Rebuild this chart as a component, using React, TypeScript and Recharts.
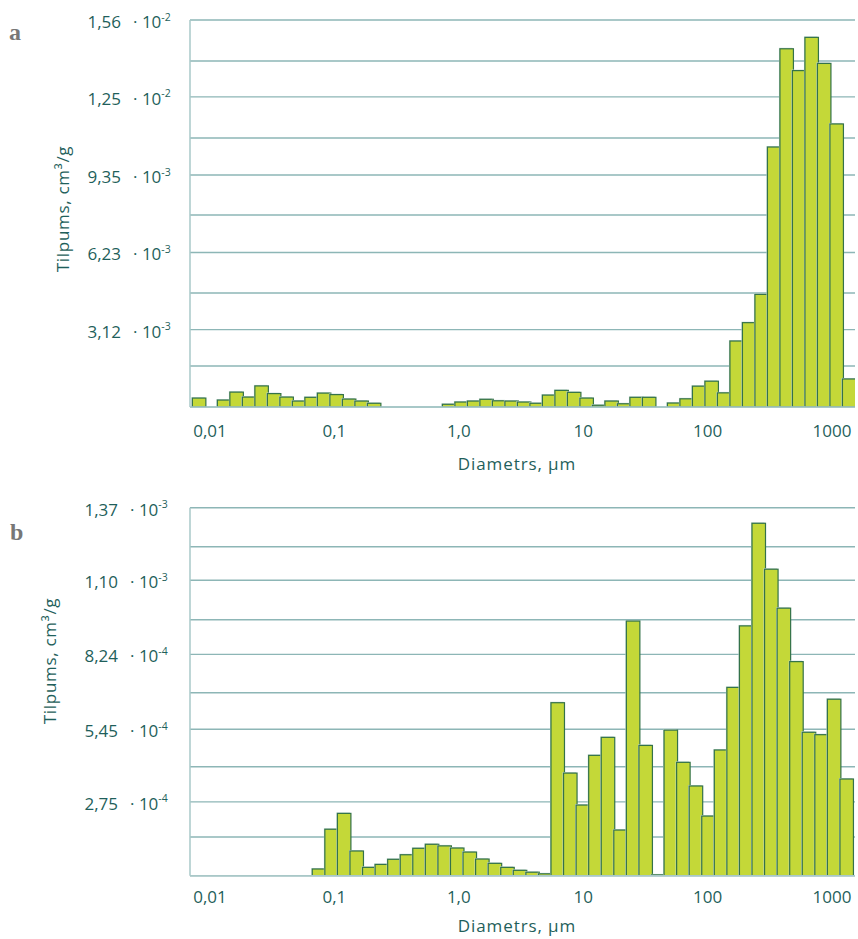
import React from 'react';
import { BarChart, Bar, XAxis, YAxis, CartesianGrid } from 'recharts';

// ---------- data ----------
// Chart a: pore volume per log-spaced diameter bin (cm3/g), 53 bins
const A_VALUES = [
  0.00036, 0, 0.00028, 0.0006, 0.0004, 0.00085, 0.00054, 0.0004, 0.00024, 0.00039,
  0.00056, 0.0005, 0.00032, 0.00024, 0.00015, 0, 0, 0, 0, 0,
  0.00011, 0.0002, 0.00024, 0.00031, 0.00025, 0.00024, 0.0002, 0.00015, 0.00048, 0.00067,
  0.00059, 0.00036, 0.00007, 0.00024, 0.00013, 0.00039, 0.00039, 0, 0.00016, 0.00033,
  0.00084, 0.00104, 0.00057, 0.00266, 0.0034, 0.00454, 0.01048, 0.01444, 0.01356, 0.0149,
  0.01385, 0.01141, 0.00113,
];
const A_BIN_START_LOG = -2.142; // log10(µm) of first bin's lower edge
const A_BIN_STEP_LOG = 0.1005;

// Chart b: 43 bins
const B_VALUES = [
  0.000025, 0.000173, 0.000232, 0.000092, 0.000031, 0.000042, 0.000061, 0.000078, 0.000102, 0.000117,
  0.000111, 0.000103, 0.000088, 0.000062, 0.000046, 0.000031, 0.00002, 0.000013, 0.000007, 0.000644,
  0.000382, 0.000263, 0.000448, 0.000515, 0.00017, 0.000948, 0.000485, 0.000003, 0.000542, 0.000422,
  0.000334, 0.000222, 0.000468, 0.000701, 0.00093, 0.001312, 0.001141, 0.000996, 0.000797, 0.000534,
  0.000525, 0.000657, 0.00036,
];
const B_BIN_START_LOG = -1.178;
const B_BIN_STEP_LOG = 0.101;

const X_TICKS = [-2, -1, 0, 1, 2, 3];
const X_TICK_LABELS = ['0,01', '0,1', '1,0', '10', '100', '1000'];

const Y_TICKS_A = [0, 0.001653, 0.00312, 0.004595, 0.00623, 0.00774, 0.00935, 0.010843, 0.0125, 0.013947, 0.0156];
const Y_MANT_A = ['', '', '3,12', '', '6,23', '', '9,35', '', '1,25', '', '1,56'];
const Y_EXP_A = ['', '', '-3', '', '-3', '', '-3', '', '-2', '', '-2'];

const Y_TICKS_B = [0, 0.0001441, 0.000275, 0.0004058, 0.000545, 0.0006813, 0.000824, 0.0009531, 0.0011, 0.0012248, 0.00137];
const Y_MANT_B = ['', '', '2,75', '', '5,45', '', '8,24', '', '1,10', '', '1,37'];
const Y_EXP_B = ['', '', '-4', '', '-4', '', '-4', '', '-3', '', '-3'];

const X_TITLE = 'Diametrs, µm';
const Y_TITLE = 'Tilpums, cm³/g';

// ---------- styles ----------
const FONT = '"Open Sans", sans-serif';
const TEXT = '#1f5f5b';
const GRID = '#8db6b6';
const AXIS = '#a9c8c8';
const FILL = '#c4d838';
const STROKE = '#347249';

const buildData = (values: number[], start: number, step: number) =>
  values.map((v, i) => ({ logD: start + (i + 0.5) * step, v }));

const A_DATA = buildData(A_VALUES, A_BIN_START_LOG, A_BIN_STEP_LOG);
const B_DATA = buildData(B_VALUES, B_BIN_START_LOG, B_BIN_STEP_LOG);

const BarShape = (props: any) => {
  const { x, y, width, height } = props;
  if (!(height > 0)) return null;
  const w = width + 0.5;
  return (
    <g>
      <rect x={x - 1} y={y - 1} width={w} height={height + 1} fill="#c9dcd8" />
      <rect x={x} y={y} width={w} height={height} fill={FILL} stroke={STROKE} strokeWidth={1.2} />
    </g>
  );
};

const renderYTick = (p: any, ticks: number[], mant: string[], exps: string[], numEnd: number, dotStart: number) => {
  const idx = ticks.indexOf(p.payload.value);
  if (idx < 0 || !mant[idx]) return <g />;
  const by = p.y + 8;
  return (
    <g>
      <text x={numEnd} y={by} textAnchor="end" fontFamily={FONT} fontSize={17} fill={TEXT}>
        {mant[idx]}
      </text>
      <text x={dotStart} y={by} textAnchor="start" fontFamily={FONT} fontSize={17} fill={TEXT}>
        {'· 10'}
        <tspan fontSize={10.5} dy={-7.5}>{exps[idx]}</tspan>
      </text>
    </g>
  );
};

const renderXTick = (p: any, dy: number) => {
  const idx = X_TICKS.indexOf(p.payload.value);
  return (
    <text x={p.x} y={p.y + dy} textAnchor="middle" fontFamily={FONT} fontSize={17} fill={TEXT}>
      {idx >= 0 ? X_TICK_LABELS[idx] : ''}
    </text>
  );
};

const X_DOMAIN: [number, number] = [-2.161, 3.185];

export default function App() {
  return (
    <div style={{ position: 'absolute', left: 0, top: 0, width: 858, height: 939, background: '#fff' }}>
      <div style={{ position: 'absolute', left: 0, top: 0 }}>
        <BarChart
          width={858}
          height={480}
          data={A_DATA}
          margin={{ top: 20, right: 3, bottom: 0, left: 0 }}
          barCategoryGap={0}
          barGap={0}
        >
          <CartesianGrid vertical={false} stroke={GRID} strokeWidth={1.4} />
          <XAxis
            type="number"
            dataKey="logD"
            domain={X_DOMAIN}
            ticks={X_TICKS}
            interval={0}
            allowDataOverflow
            tickLine={false}
            tickSize={0}
            tickMargin={0}
            height={73}
            axisLine={{ stroke: AXIS, strokeWidth: 1.5 }}
            tick={(p: any) => renderXTick(p, 30.3)}
          />
          <YAxis
            type="number"
            domain={[0, 0.0156]}
            ticks={Y_TICKS_A}
            interval={0}
            width={190}
            tickLine={false}
            allowDataOverflow
            axisLine={{ stroke: AXIS, strokeWidth: 1.5 }}
            tick={(p: any) => renderYTick(p, Y_TICKS_A, Y_MANT_A, Y_EXP_A, 121, 133)}
          />
          <Bar dataKey="v" isAnimationActive={false} shape={BarShape} />
        </BarChart>
      </div>
      <div style={{ position: 'absolute', left: 0, top: 480 }}>
        <BarChart
          width={858}
          height={459}
          data={B_DATA}
          margin={{ top: 27.7, right: 3, bottom: 0, left: 0 }}
          barCategoryGap={0}
          barGap={0}
        >
          <CartesianGrid vertical={false} stroke={GRID} strokeWidth={1.4} />
          <XAxis
            type="number"
            dataKey="logD"
            domain={X_DOMAIN}
            ticks={X_TICKS}
            interval={0}
            allowDataOverflow
            tickLine={false}
            tickSize={0}
            tickMargin={0}
            height={63.3}
            axisLine={{ stroke: AXIS, strokeWidth: 1.5 }}
            tick={(p: any) => renderXTick(p, 27.6)}
          />
          <YAxis
            type="number"
            domain={[0, 0.00137]}
            ticks={Y_TICKS_B}
            interval={0}
            width={190}
            tickLine={false}
            allowDataOverflow
            axisLine={{ stroke: AXIS, strokeWidth: 1.5 }}
            tick={(p: any) => renderYTick(p, Y_TICKS_B, Y_MANT_B, Y_EXP_B, 118, 130)}
          />
          <Bar dataKey="v" isAnimationActive={false} shape={BarShape} />
        </BarChart>
      </div>
      <svg
        width={858}
        height={939}
        style={{ position: 'absolute', left: 0, top: 0, pointerEvents: 'none' }}
      >
        <text x={9} y={40} fontFamily='"Liberation Serif", serif' fontWeight="bold" fontSize={24} fill="#777">a</text>
        <text x={10} y={540} fontFamily='"Liberation Serif", serif' fontWeight="bold" fontSize={24} fill="#777">b</text>
        <text x={517} y={470} textAnchor="middle" fontFamily={FONT} fontSize={17} letterSpacing={0.9} fill={TEXT}>{X_TITLE}</text>
        <text x={517} y={932} textAnchor="middle" fontFamily={FONT} fontSize={17} letterSpacing={0.9} fill={TEXT}>{X_TITLE}</text>
        <text x={62} y={209} textAnchor="middle" dominantBaseline="central" transform="rotate(-90 62 209)" fontFamily={FONT} fontSize={17} letterSpacing={0.7} fill={TEXT}>{Y_TITLE}</text>
        <text x={49} y={661} textAnchor="middle" dominantBaseline="central" transform="rotate(-90 49 661)" fontFamily={FONT} fontSize={17} letterSpacing={0.7} fill={TEXT}>{Y_TITLE}</text>
      </svg>
    </div>
  );
}
